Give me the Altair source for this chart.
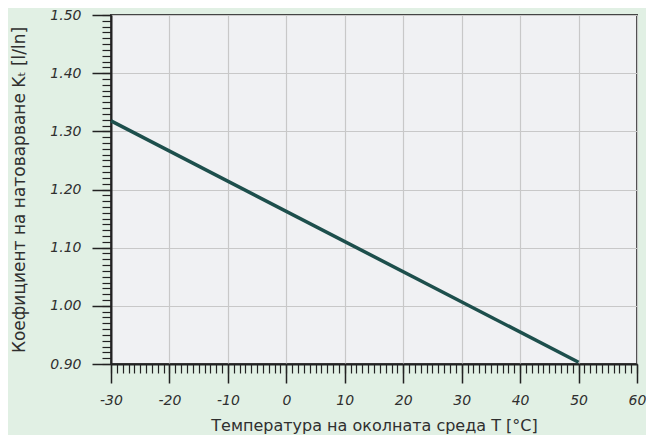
import altair as alt
import pandas as pd

# data
temperature = [-30, 50]
k_factor = [1.318, 0.903]

x_major = [-30, -20, -10, 0, 10, 20, 30, 40, 50, 60]
y_major = [0.90, 1.00, 1.10, 1.20, 1.30, 1.40, 1.50]
x_minor = list(range(-30, 61))
y_minor = [round(0.90 + i * 0.01, 2) for i in range(61)]

df = pd.DataFrame({"T": temperature, "K": k_factor})

FONT = "DejaVu Sans"
TXT = "#2f2f2f"

xs = alt.Scale(domain=[-30, 60], nice=False, zero=False)
ys = alt.Scale(domain=[0.90, 1.50], nice=False, zero=False)

major = alt.Chart(df).mark_line(color="#1d4f4c", strokeWidth=3.5, strokeCap="butt").encode(
    x=alt.X("T:Q", scale=xs, axis=alt.Axis(
        orient="bottom", values=x_major, labelExpr="toString(datum.value)",
        title="Температура на околната среда T [°C]",
        tickSize=19, tickWidth=1.5, tickColor="#222", domainColor="#222", domainWidth=2,
        labelFont=FONT, labelFontStyle="italic", labelFontSize=14, labelColor=TXT, labelPadding=10,
        labelFlush=False,
        titleFont=FONT, titleFontSize=16, titleFontWeight="normal", titleColor=TXT, titlePadding=10,
        grid=True, gridColor="#c8c8c8", gridWidth=1.2)),
    y=alt.Y("K:Q", scale=ys, axis=alt.Axis(
        orient="left", values=y_major, format=".2f", title="Коефициент на натоварване  Kₜ [l/ln]",
        tickSize=19, tickWidth=1.5, tickColor="#222", domainColor="#222", domainWidth=2,
        labelFont=FONT, labelFontStyle="italic", labelFontSize=14, labelColor=TXT, labelPadding=11,
        labelFlush=False,
        titleFont=FONT, titleFontSize=17, titleFontWeight="normal", titleColor=TXT, titlePadding=21,
        grid=True, gridColor="#c8c8c8", gridWidth=1.2)),
)

minor = alt.Chart(df).mark_line(opacity=0).encode(
    x=alt.X("T:Q", scale=xs, axis=alt.Axis(
        orient="bottom", values=x_minor, labels=False, title=None, grid=False, domain=False,
        tickSize=9, tickWidth=1.2, tickColor="#222")),
    y=alt.Y("K:Q", scale=ys, axis=alt.Axis(
        orient="left", values=y_minor, labels=False, title=None, grid=False, domain=False,
        tickSize=9, tickWidth=1.2, tickColor="#222")),
)

chart = alt.layer(minor, major).resolve_axis(x="independent", y="independent").properties(
    width=526, height=349,
    autosize=alt.AutoSizeParams(type="none"),
    padding={"left": 103, "top": 7, "right": 9, "bottom": 71},
    background="#e1f0e4",
).configure_view(fill="#f0f1f3", stroke="#444", strokeWidth=2)

chart.save("out.html", embed_options={"renderer": "svg", "actions": False})
